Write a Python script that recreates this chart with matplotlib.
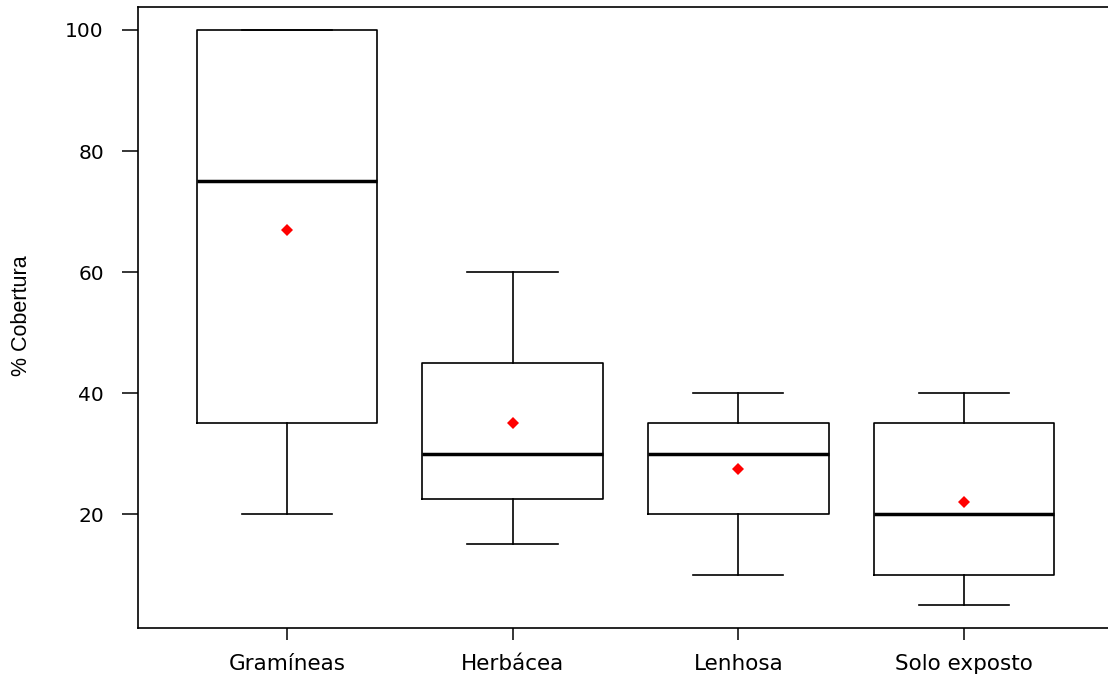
import matplotlib.pyplot as plt

categorias = ["Gramíneas", "Herbácea", "Lenhosa", "Solo exposto"]
whislo = [20, 15, 10, 5]
q1 = [35, 22.5, 20, 10]
medianas = [75, 30, 30, 20]
q3 = [100, 45, 35, 35]
whishi = [100, 60, 40, 40]
medias = [67, 35, 27.5, 22]
yticks = [20, 40, 60, 80, 100]

stats = []
for i, nome in enumerate(categorias):
    stats.append(dict(label=nome, whislo=whislo[i], q1=q1[i], med=medianas[i],
                      q3=q3[i], whishi=whishi[i], fliers=[]))

fig = plt.figure(figsize=(11.08, 6.79), dpi=100)
ax = fig.add_axes([0.1245, 0.0751, 0.880, 0.9146])

pos = list(range(1, len(categorias) + 1))
ax.bxp(stats, positions=pos, widths=0.8, showfliers=False,
       boxprops=dict(color="black", linewidth=1.2),
       whiskerprops=dict(color="black", linewidth=1.2, linestyle="-"),
       capprops=dict(color="black", linewidth=1.2),
       medianprops=dict(color="black", linewidth=2.5, solid_capstyle="butt"),
       capwidths=0.4)
ax.plot(pos, medias, linestyle="none", marker="D", markersize=6.5,
        color="red", markeredgewidth=0)

ax.set_xlim(0.34, 4.66)
ax.set_ylim(1.2, 103.8)
ax.set_yticks(yticks)
ax.set_yticklabels([str(v) for v in yticks], family="DejaVu Sans", fontsize=14.5)
ax.set_xticks(pos)
ax.set_xticklabels(categorias, family="DejaVu Sans", fontsize=15.5)
ax.tick_params(axis="y", length=11.5, width=1.1, pad=13)
ax.tick_params(axis="x", length=8.5, width=1.1, pad=10.5)
ax.set_ylabel("% Cobertura", family=["Liberation Sans Narrow", "Liberation Sans"],
              fontsize=15.5)
ax.yaxis.label.set_verticalalignment("center")
ax.yaxis.set_label_coords(-0.119, 0.503)
ax.spines["right"].set_visible(False)
for s in ax.spines.values():
    s.set_linewidth(1.2)

fig.savefig("out.png", dpi=100)
